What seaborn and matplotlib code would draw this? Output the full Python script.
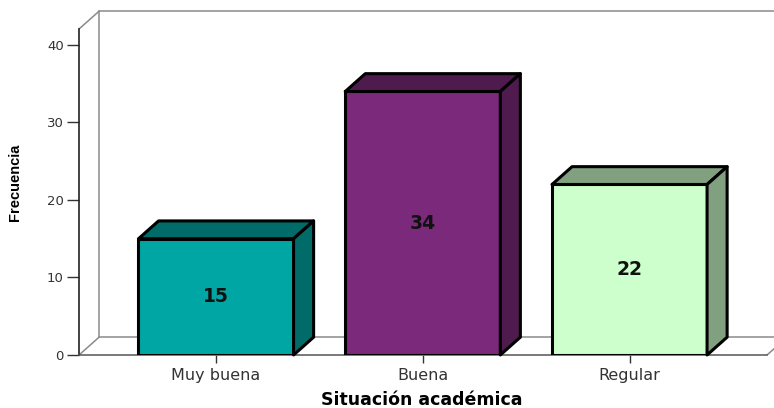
import matplotlib
matplotlib.use("Agg")
import pandas as pd
import matplotlib.pyplot as plt
import seaborn as sns
from matplotlib.patches import Polygon

# Datos del gráfico
categorias = ["Muy buena", "Buena", "Regular"]
frecuencias = [15, 34, 22]
colores_frente = ["#00A6A4", "#7B297B", "#CCFFCC"]
colores_lado = ["#006B69", "#4F1A4E", "#80A080"]

df = pd.DataFrame({"situacion": categorias, "frecuencia": frecuencias})

sns.set_style("white")
fig = plt.figure(figsize=(7.74, 4.08), dpi=100)
ax = fig.add_axes([0.1021, 0.1299, 0.8889, 0.799])

sns.barplot(data=df, x="situacion", y="frecuencia", hue="situacion",
            palette=colores_frente, saturation=1, width=0.75,
            edgecolor="black", linewidth=2.2, legend=False, ax=ax, zorder=3)

xmin, xmax = -0.6626, 2.665
ymax = 42.06
ax.set_xlim(xmin, xmax)
ax.set_ylim(0, ymax)
ax.set_yticks([0, 10, 20, 30, 40])

# profundidad del efecto 3D (en unidades de datos)
dx, dy = 0.097, 2.3

# paredes y piso
gris = "#8a8a8a"
lineas = [
    ([xmin, xmin + dx], [ymax, ymax + dy]),
    ([xmin + dx, xmin + dx], [dy, ymax + dy]),
    ([xmin + dx, xmax + 1], [ymax + dy, ymax + dy]),
    ([xmin + dx, xmax + dx], [dy, dy]),
    ([xmin, xmin + dx], [0, dy]),
    ([xmax, xmax + dx], [0, dy]),
]
for xs, ys in lineas:
    ax.plot(xs, ys, color=gris, lw=1.1, clip_on=False, zorder=1)

# caras superior y lateral de cada barra
barras = list(ax.patches)
for i, p in enumerate(barras):
    x0, w, h = p.get_x(), p.get_width(), p.get_height()
    arriba = [(x0, h), (x0 + dx, h + dy), (x0 + w + dx, h + dy), (x0 + w, h)]
    lado = [(x0 + w, 0), (x0 + w, h), (x0 + w + dx, h + dy), (x0 + w + dx, dy)]
    for pts in (arriba, lado):
        ax.add_patch(Polygon(pts, closed=True, facecolor=colores_lado[i],
                             edgecolor="black", lw=2.2, joinstyle="round",
                             clip_on=False, zorder=3))
    ax.text(x0 + w / 2, h / 2, str(frecuencias[i]), ha="center", va="center",
            fontsize=13.5, fontweight="bold", fontfamily="DejaVu Sans",
            color="#111111", zorder=5)

sns.despine(ax=ax)
ax.spines["left"].set_color("#222222")
ax.spines["left"].set_linewidth(1.2)
ax.spines["bottom"].set_color("#555555")
ax.spines["bottom"].set_linewidth(1.1)
ax.tick_params(axis="y", direction="out", length=9, width=1, color="#333333",
               labelsize=9.5, labelcolor="#333333", pad=2, left=True)
ax.tick_params(axis="x", direction="out", length=6, width=1, color="#333333",
               labelsize=11.5, labelcolor="#333333", pad=3, bottom=True)

ax.set_ylabel("Frecuencia", fontfamily="Liberation Sans", fontweight="bold",
              fontsize=10.5, color="black")
ax.yaxis.set_label_coords(-0.083, 0.53)
ax.set_xlabel("Situación académica", fontfamily="DejaVu Sans",
              fontweight="bold", fontsize=12.5, color="black")
ax.xaxis.label.set_va("baseline")
ax.xaxis.set_label_coords(0.4985, -0.152)

plt.savefig("out.png", dpi=100)
